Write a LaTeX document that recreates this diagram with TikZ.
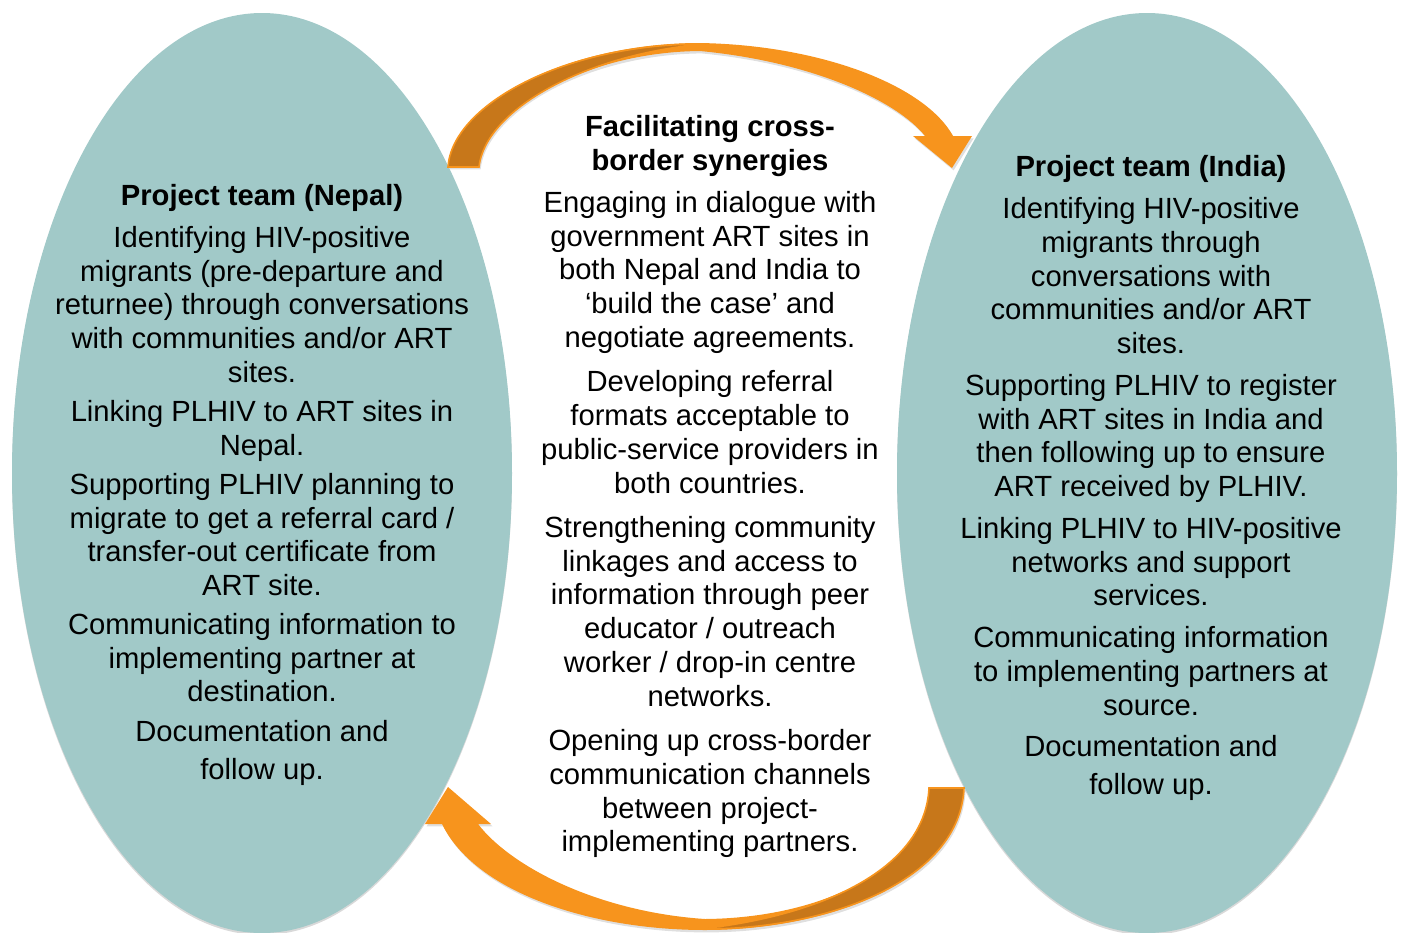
\documentclass[tikz,border=0pt]{standalone}
\usepackage{fontspec}
\setmainfont{Liberation Sans}
\usetikzlibrary{shadows}
\definecolor{oval}{RGB}{161,201,200}
\definecolor{arrlight}{RGB}{247,148,29}
\definecolor{arrdark}{RGB}{199,119,26}

\begin{document}
\begin{tikzpicture}[x=.5pt,y=-.5pt,
    txt/.style={anchor=base,inner sep=0pt,font=\fontsize{14.6}{17}\selectfont},
    head/.style={txt,font=\fontsize{14.6}{17}\selectfont\bfseries},
    ribbon/.style={fill=arrlight,drop shadow={opacity=.25,shadow xshift=.8pt,shadow yshift=-1.2pt}},
    twist/.style={fill=arrdark,draw=arrlight,line width=.8pt}]

      \useasboundingbox (0,0) rectangle (1405,933);

      % ovals
      \path (262,473) coordinate (nepal);
      \path (1147,473) coordinate (india);
      \foreach \c in {nepal,india}{
        \fill[oval,drop shadow={opacity=.3,shadow xshift=0pt,shadow yshift=-1pt}] (\c) ellipse [x radius=125pt,y radius=230pt];
      }

      % upper arrow
      \fill[ribbon] (448,167) .. controls (452,105) and (565,43) .. (700,43)
        .. controls (820,45) and (925,85) .. (953,136) -- (972,136) -- (952,168)
        -- (913,136) -- (925,136) .. controls (898,102) and (815,62) .. (700,51)
        .. controls (585,52) and (485,110) .. (479,167) -- cycle;
      \filldraw[twist] (448,167) .. controls (452,105) and (565,43) .. (705,44)
        .. controls (585,54) and (485,110) .. (479,167) -- cycle;

      % lower arrow
      \fill[ribbon] (964,788) .. controls (960,880) and (830,930) .. (705,930)
        .. controls (590,930) and (475,892) .. (442,824) -- (425,824) -- (448,787)
        -- (491,824) -- (478,824) .. controls (512,868) and (600,912) .. (705,919)
        .. controls (820,918) and (925,870) .. (929,788) -- cycle;
      \filldraw[twist] (964,788) .. controls (960,880) and (830,930) .. (700,929)
        .. controls (820,916) and (925,870) .. (929,788) -- cycle;

      % nepal
      \node[head] (n205) at (262,205) {Project team (Nepal)};
      \foreach \y/\t in {247/Identifying HIV-positive, 281/migrants (pre-departure and,
          314/returnee) through conversations, 348/{with communities and/or ART}, 382/sites.,
          421/Linking PLHIV to ART sites in, 455/Nepal.,
          494/Supporting PLHIV planning to, 528/{migrate to get a referral card /},
          561/transfer-out certificate from, 595/ART site.,
          634/Communicating information to, 668/implementing partner at, 701/destination.,
          741/Documentation and, 779/follow up.}{
        \node[txt] (n\y) at (262,\y) {\t};
      }

      % middle
      \foreach \y/\t in {136/Facilitating cross-, 170/border synergies}{
        \node[head] (m\y) at (710,\y) {\t};
      }
      \foreach \y/\t in {212/Engaging in dialogue with, 246/government ART sites in,
          279/both Nepal and India to, 313/‘build the case’ and, 347/negotiate agreements.,
          391/Developing referral, 425/formats acceptable to,
          459/public-service providers in, 493/both countries.,
          537/Strengthening community, 571/linkages and access to,
          604/information through peer, 638/{educator / outreach},
          672/{worker / drop-in centre}, 706/networks.,
          750/Opening up cross-border, 784/communication channels,
          818/between project-, 851/implementing partners.}{
        \node[txt] (m\y) at (710,\y) {\t};
      }

      % india
      \node[head] (i176) at (1151,176) {Project team (India)};
      \foreach \y/\t in {218/Identifying HIV-positive, 252/migrants through,
          286/conversations with, 319/{communities and/or ART}, 353/sites.,
          395/Supporting PLHIV to register, 429/with ART sites in India and,
          462/then following up to ensure, 496/ART received by PLHIV.,
          538/Linking PLHIV to HIV-positive, 572/networks and support, 605/services.,
          647/Communicating information, 681/to implementing partners at, 715/source.,
          756/Documentation and, 794/follow up.}{
        \node[txt] (i\y) at (1151,\y) {\t};
      }

    \end{tikzpicture}
\end{document}
